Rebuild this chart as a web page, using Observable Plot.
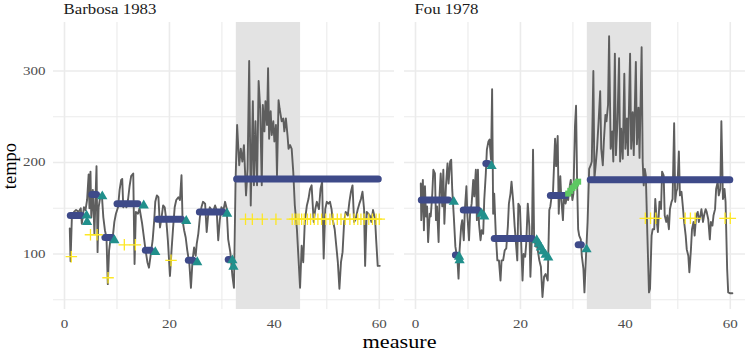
<!DOCTYPE html>
<html>
<head>
<meta charset="utf-8">
<script src="https://cdn.jsdelivr.net/npm/d3@7"></script>
<script src="https://cdn.jsdelivr.net/npm/@observablehq/plot@0.6"></script>
<style>
  html, body { margin: 0; padding: 0; background: #fff; }
</style>
</head>
<body>
<script>
// ---------- data ----------
const pieces = ["Barbosa 1983", "Fou 1978"];
const shadeStart = [32.75];
const shadeEnd = [45];
const xMajor = [0, 20, 40, 60];
const xMinor = [10, 30, 50];
const yMajor = [100, 200, 300];
const yMinor = [50, 150, 250];

// tempo trace [measure, tempo]
const barbosaTrace = [[1.0,128],[1.15,92],[1.4,140],[1.8,146],[2.2,148],[2.7,146],[3.1,150],[3.3,133],[3.7,151],[4.0,148],[4.3,159],[4.6,187],[4.75,150],[4.95,190],[5.1,140],[5.4,170],[5.7,122],[6.1,196],[6.3,102],[6.5,151],[6.8,162],[7.1,166],[7.4,140],[7.7,126],[8.0,118],[8.25,67],[8.5,104],[8.8,118],[9.1,113],[9.5,135],[9.8,144],[10.2,151],[10.5,170],[10.8,181],[11.0,182],[11.2,151],[11.5,155],[11.8,151],[12.1,159],[12.4,174],[12.7,185],[13.1,188],[13.35,89],[13.6,146],[14.0,144],[14.3,150],[14.8,133],[15.2,115],[15.4,106],[15.8,91],[16.1,85],[16.4,98],[16.8,115],[17.1,137],[17.3,157],[17.6,164],[17.9,162],[18.2,129],[18.5,140],[18.8,153],[19.1,151],[19.4,137],[19.7,115],[20.1,76],[20.4,104],[20.7,129],[21.0,151],[21.3,159],[21.7,162],[22.0,159],[22.3,186],[22.5,137],[22.8,126],[23.1,118],[23.4,104],[23.8,89],[24.1,63],[24.4,93],[24.7,107],[25.0,98],[25.2,111],[25.5,122],[25.8,140],[26.1,151],[26.4,157],[26.8,155],[27.1,124],[27.4,144],[27.7,151],[28.0,148],[28.3,146],[28.7,153],[29.0,148],[29.3,115],[29.6,137],[29.9,151],[30.3,148],[30.6,157],[30.9,150],[31.2,116],[31.6,102],[32.0,76],[32.3,63],[32.6,179],[32.9,241],[33.3,197],[33.6,215],[33.9,201],[34.2,219],[34.6,164],[34.9,193],[35.2,311],[35.5,153],[35.9,267],[36.1,175],[36.4,245],[36.7,175],[37.0,289],[37.3,259],[37.6,175],[37.8,263],[38.1,234],[38.3,267],[38.6,241],[38.8,303],[39.0,226],[39.3,256],[39.5,230],[39.8,245],[40.0,223],[40.3,241],[40.5,186],[40.8,268],[41.0,259],[41.4,245],[41.7,248],[41.9,234],[42.2,248],[42.5,230],[42.7,215],[43.0,219],[43.3,215],[43.6,190],[43.9,153],[44.3,127],[44.6,95],[44.9,63],[45.2,109],[45.5,91],[45.8,135],[46.2,153],[46.5,160],[46.8,171],[47.1,175],[47.5,135],[47.8,149],[48.1,157],[48.5,149],[48.8,171],[49.1,179],[49.4,95],[49.7,149],[50.0,157],[50.3,155],[50.6,157],[50.9,149],[51.1,138],[51.5,127],[51.8,109],[52.1,91],[52.4,62],[52.7,91],[53.0,102],[53.3,135],[53.6,146],[54.0,142],[54.3,157],[54.6,168],[54.9,175],[55.2,135],[55.5,138],[55.9,149],[56.2,155],[56.5,160],[56.8,168],[57.1,149],[57.3,87],[57.6,146],[57.9,144],[58.2,142],[58.5,135],[58.8,148],[59.2,138],[59.4,116],[59.7,87],[60.1,87]];

const fouTrace = [[1.0,177],[1.1,137],[1.4,181],[1.6,126],[1.8,174],[2.0,141],[2.2,152],[2.4,113],[2.7,144],[2.9,141],[3.2,166],[3.4,192],[3.7,188],[3.9,137],[4.1,152],[4.4,113],[4.6,166],[4.8,188],[5.1,152],[5.3,192],[5.5,133],[5.8,174],[6.1,199],[6.3,177],[6.6,201],[6.8,203],[7.0,170],[7.3,141],[7.6,108],[8.0,93],[8.2,73],[8.4,104],[8.7,130],[8.9,137],[9.2,115],[9.4,148],[9.7,174],[9.9,141],[10.2,115],[10.4,144],[10.7,155],[11.0,181],[11.2,163],[11.5,192],[11.7,137],[11.9,192],[12.1,133],[12.4,115],[12.6,126],[12.9,122],[13.1,159],[13.4,188],[13.6,214],[13.9,223],[14.1,225],[14.4,203],[14.6,280],[14.8,144],[15.0,166],[15.3,122],[15.6,93],[15.9,93],[16.2,71],[16.4,93],[16.7,93],[17.0,104],[17.3,106],[17.6,130],[17.8,155],[18.1,166],[18.3,179],[18.6,159],[18.9,130],[19.1,115],[19.4,93],[19.6,155],[19.9,152],[20.1,119],[20.4,71],[20.6,100],[20.9,97],[21.1,111],[21.4,155],[21.7,130],[21.9,75],[22.2,122],[22.4,214],[22.6,119],[22.9,108],[23.2,108],[23.6,93],[23.9,86],[24.2,53],[24.5,75],[24.8,78],[25.2,71],[25.5,148],[25.7,152],[26.0,166],[26.2,166],[26.6,226],[26.8,196],[27.1,229],[27.3,144],[27.6,185],[27.8,159],[28.1,137],[28.3,166],[28.6,155],[28.9,163],[29.1,159],[29.4,174],[29.6,181],[29.9,159],[30.1,166],[30.4,240],[30.6,262],[30.8,179],[31.0,127],[31.2,120],[31.5,116],[31.7,98],[32.0,84],[32.2,58],[32.5,98],[32.8,135],[33.1,193],[33.4,197],[33.6,201],[33.9,300],[34.1,182],[34.4,201],[34.6,215],[34.9,245],[35.2,278],[35.4,215],[35.7,197],[35.9,223],[36.2,252],[36.4,245],[36.7,263],[36.9,338],[37.2,215],[37.5,234],[37.7,201],[38.0,319],[38.2,208],[38.5,245],[38.8,314],[39.0,201],[39.2,237],[39.5,204],[39.8,297],[40.0,215],[40.3,248],[40.5,208],[40.9,319],[41.1,215],[41.4,255],[41.6,208],[42.0,310],[42.2,220],[42.5,260],[42.7,205],[43.1,326],[43.3,201],[43.5,175],[43.7,193],[43.9,186],[44.2,120],[44.5,58],[44.7,62],[45.0,120],[45.2,127],[45.5,127],[45.7,160],[46.0,135],[46.2,124],[46.5,157],[46.8,149],[47.0,190],[47.3,186],[47.5,142],[47.8,135],[48.0,142],[48.3,127],[48.5,149],[48.8,157],[49.0,160],[49.3,243],[49.5,157],[49.7,168],[49.9,171],[50.2,212],[50.4,164],[50.7,168],[51.0,149],[51.2,135],[51.5,120],[51.7,105],[52.0,98],[52.2,80],[52.5,105],[52.7,127],[53.0,135],[53.2,120],[53.5,142],[53.8,146],[54.0,135],[54.3,142],[54.5,149],[54.8,135],[55.0,142],[55.3,149],[55.5,146],[55.8,138],[56.1,116],[56.3,135],[56.6,131],[56.8,142],[57.1,149],[57.3,171],[57.6,179],[57.8,164],[58.1,171],[58.3,245],[58.6,160],[58.9,171],[59.1,157],[59.4,84],[59.6,58],[60.0,57],[60.4,57]];

// constant-tempo segments [start, end, tempo]
const barbosaSegments = [[1.2,3.3,142],[5.3,6.2,165],[7.8,9.1,118],[10.1,14.1,155],[15.5,16.5,104],[17.8,22.4,138],[23.7,24.6,93],[25.8,30.3,146],[31.3,31.5,94],[32.9,59.9,182]];
const fouSegments = [[1.2,6.4,159],[7.7,7.8,99],[9.2,12.0,148],[13.5,13.9,199],[15.1,22.3,117],[25.8,28.7,164],[31.1,31.7,110],[33.4,60.0,181]];

// triangles [measure, tempo]
const barbosaTriangles = [[4.2,142],[4.3,135],[7.2,163],[9.5,115],[15.1,153],[17.3,102],[23.2,136],[25.3,91],[31.0,144],[32.0,93],[32.2,86]];
const fouTriangles = [[7.3,157],[8.3,97],[8.4,93],[12.6,144],[13.1,141],[14.5,196],[23.1,115],[23.5,111],[23.9,107],[24.3,103],[24.8,99],[25.3,96],[32.6,105]];

// squares (Fou only)
const fouSquares = [[29.1,166],[29.5,169],[29.9,172],[30.3,174],[30.6,177],[31.0,179]];

// crosses [measure, tempo]
const barbosaCrosses = [[1.3,97],[4.95,121],[6.2,121],[8.3,74],[11.4,110],[13.5,110],[20.3,93],[34.5,138],[35.8,138],[37.7,138],[40.3,138],[43.4,138],[43.9,138],[44.3,138],[44.7,138],[45.2,138],[45.7,138],[46.3,138],[46.9,138],[47.6,138],[48.3,138],[49.0,138],[49.8,138],[50.6,138],[51.2,138],[52.0,138],[52.7,138],[53.5,138],[54.4,138],[55.2,138],[55.9,138],[56.5,138],[57.1,138],[58.0,138],[58.7,138],[59.4,138],[60.0,138]];
const fouCrosses = [[43.8,139],[44.8,139],[45.8,139],[51.4,139],[52.4,139],[53.3,139],[59.0,139],[60.0,139]];

// ---------- tables ----------
const pts = (piece, arr) => arr.map(([m, t]) => ({piece, measure: m, tempo: t}));
const segs = (piece, arr) => arr.map(([s, e, t]) => ({piece, start: s, end: e, tempo: t}));
const trace = [...pts(pieces[0], barbosaTrace), ...pts(pieces[1], fouTrace)];
const segments = [...segs(pieces[0], barbosaSegments), ...segs(pieces[1], fouSegments)];
const triangles = [...pts(pieces[0], barbosaTriangles), ...pts(pieces[1], fouTriangles)];
const squares = pts(pieces[1], fouSquares);
const crosses = [...pts(pieces[0], barbosaCrosses), ...pts(pieces[1], fouCrosses)];
const shade = shadeStart.map((s, i) => ({x1: s, x2: shadeEnd[i]}));

const serif = "'Liberation Serif', 'Times New Roman', serif";

const chart = Plot.plot({
  width: 747,
  height: 352,
  marginLeft: 53,
  marginRight: 1,
  marginTop: 22,
  marginBottom: 43,
  style: {fontFamily: serif, background: "#fff"},
  fx: {domain: pieces, paddingInner: 10 / 352, paddingOuter: 0, axis: null},
  x: {domain: [-2.1, 62.9]},
  y: {domain: [39.3, 353]},
  marks: [
    Plot.gridX({ticks: xMinor, stroke: "#ebebeb", strokeOpacity: 1, strokeWidth: 1.1}),
    Plot.gridX({ticks: xMajor, stroke: "#ebebeb", strokeOpacity: 1, strokeWidth: 1.6}),
    Plot.gridY({ticks: yMinor, stroke: "#ebebeb", strokeOpacity: 1, strokeWidth: 1.1}),
    Plot.gridY({ticks: yMajor, stroke: "#ebebeb", strokeOpacity: 1, strokeWidth: 1.6}),
    Plot.rect(shade, {x1: "x1", x2: "x2", fill: "#e3e3e3"}),
    Plot.line(trace, {x: "measure", y: "tempo", fx: "piece", stroke: "#5e5e5e", strokeWidth: 1.9}),
    Plot.ruleY(segments, {x1: "start", x2: "end", y: "tempo", fx: "piece", stroke: "#3e4a89", strokeWidth: 7, strokeLinecap: "round"}),
    Plot.dot(triangles, {x: "measure", y: "tempo", fx: "piece", symbol: "triangle", r: 3.8, fill: "#21908c"}),
    Plot.dot(squares, {x: "measure", y: "tempo", fx: "piece", symbol: "square", r: 3.4, fill: "#5dc863"}),
    Plot.dot(crosses, {x: "measure", y: "tempo", fx: "piece", symbol: "plus", r: 3.8, stroke: "#fde725", strokeWidth: 1.3}),
    Plot.axisX({ticks: xMajor, tickSize: 0, tickPadding: 10, label: null, fontSize: 12.5, fill: "#4d4d4d"}),
    Plot.axisY({ticks: yMajor, tickSize: 0, tickPadding: 8, label: null, fontSize: 12.5, fill: "#4d4d4d"}),
    Plot.text(pieces, {fx: d => d, text: d => d, frameAnchor: "top-left", dx: 10, dy: -9, lineAnchor: "bottom", fontSize: 14, fill: "#1a1a1a"}),
    Plot.text(["measure"], {text: d => d, facet: "super", frameAnchor: "bottom", textAnchor: "middle", dy: 38, lineAnchor: "bottom", fontSize: 18.5, fill: "#000"}),
    Plot.text(["tempo"], {text: d => d, facet: "super", frameAnchor: "left", textAnchor: "middle", dx: -43, rotate: -90, lineAnchor: "middle", fontSize: 18.5, fill: "#000"})
  ]
});

document.body.append(chart);

// widen glyphs horizontally to match the reference's wide lettering
chart.querySelectorAll("text").forEach(t => {
  const tr = t.getAttribute("transform") || "";
  if (tr.includes("rotate")) return;
  const L = t.getComputedTextLength();
  if (L > 0) {
    t.setAttribute("textLength", (L * 1.2).toFixed(1));
    t.setAttribute("lengthAdjust", "spacingAndGlyphs");
  }
});
</script>
</body>
</html>
